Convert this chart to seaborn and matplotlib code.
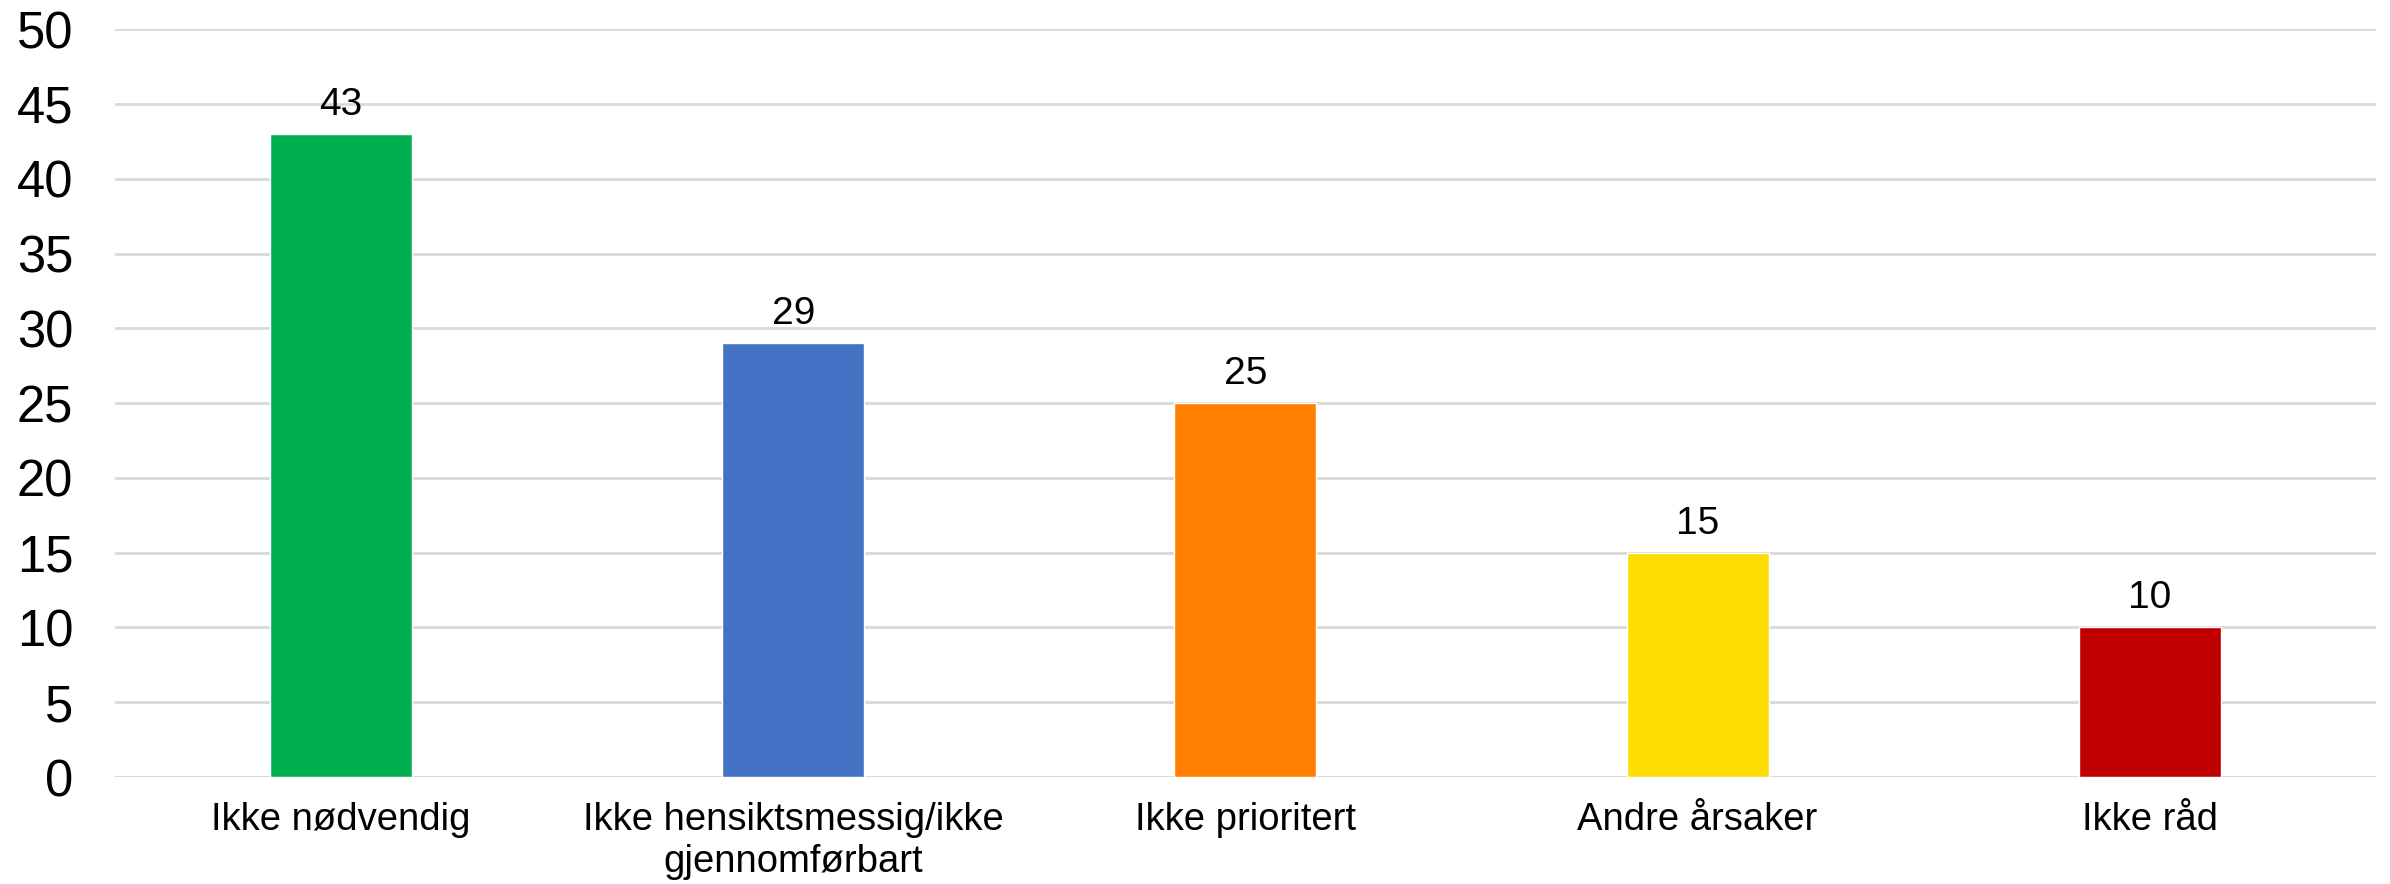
import matplotlib
matplotlib.use('Agg')
import matplotlib.pyplot as plt
import pandas as pd
import seaborn as sns

# data
categories = ['Ikke nødvendig', 'Ikke hensiktsmessig/ikke\ngjennomførbart',
              'Ikke prioritert', 'Andre årsaker', 'Ikke råd']
values = [43, 29, 25, 15, 10]
colors = ['#00B050', '#4472C4', '#FF8000', '#FFDD00', '#C00000']
yticks = [0, 5, 10, 15, 20, 25, 30, 35, 40, 45, 50]

df = pd.DataFrame({'kategori': categories, 'antall': values})

sns.set_style('white')
plt.rcParams['font.family'] = ['Liberation Sans', 'DejaVu Sans']
plt.rcParams['text.color'] = 'black'

fig = plt.figure(figsize=(23.9, 8.84), dpi=100)
ax = fig.add_axes([0.0481, 0.121, 0.946, 0.846])

sns.barplot(data=df, x='kategori', y='antall', hue='kategori',
            palette=colors, legend=False, width=0.314, saturation=1, ax=ax)

ax.set_ylim(0, 50)
ax.set_xlim(-0.5, len(categories) - 0.5)
ax.set_yticks(yticks)
ax.yaxis.grid(True, color='#D9D9D9', linewidth=2)
ax.set_axisbelow(True)
for s in ax.spines.values():
    s.set_visible(False)
ax.axhline(0, color='#D9D9D9', linewidth=2, zorder=0.5)

ax.tick_params(axis='y', labelsize=36.5, length=0, pad=30, labelcolor='black')
ax.tick_params(axis='x', labelsize=27.5, length=0, pad=18, labelcolor='black')
ax.set_xlabel('')
ax.set_ylabel('')

# value labels above the bars
for c in ax.containers:
    ax.bar_label(c, fontsize=28, padding=8, color='black')

fig.savefig('out.png', dpi=100)
